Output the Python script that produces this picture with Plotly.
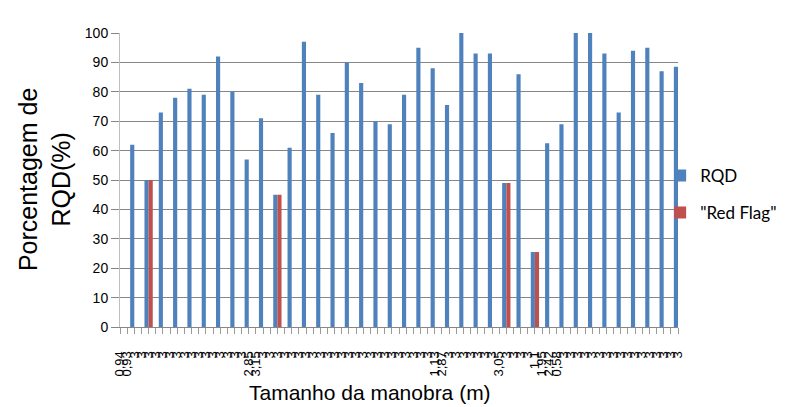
import plotly.graph_objects as go

# Category labels (run length, m) - one per category slot on the axis
categories = [
    "0,94", "0,93", "3", "3", "3", "3", "3", "3", "3", "3",
    "3", "3", "3", "3", "3", "3", "3", "3", "2,85", "3,15",
    "3", "3", "3", "3", "3", "3", "3", "3", "3", "3",
    "3", "3", "3", "3", "3", "3", "3", "3", "3", "3",
    "3", "3", "3", "3", "1,13", "2,87", "3", "3", "3", "3",
    "3", "3", "3", "3,05", "3", "3", "3", "3", "1,1", "1,95",
    "2,42", "0,58", "3", "3", "3", "3", "3", "3", "3", "3",
    "3", "3", "3", "3", "3", "3", "3", "3", "3",
]

# RQD (%) per category slot (None = no bar)
rqd = [
    None, None, 62, None, 50, None, 73, None, 78, None,
    81, None, 79, None, 92, None, 80, None, 57, None,
    71, None, 45, None, 61, None, 97, None, 79, None,
    66, None, 90, None, 83, None, 70, None, 69, None,
    79, None, 95, None, 88, None, 75.5, None, 100, None,
    93, None, 93, None, 49, None, 86, None, 25.5, None,
    62.5, None, 69, None, 100, None, 100, None, 93, None,
    73, None, 94, None, 95, None, 87, None, 88.5,
]

# "Red Flag" series
red_flag = [
    None, None, None, None, 50, None, None, None, None, None,
    None, None, None, None, None, None, None, None, None, None,
    None, None, 45, None, None, None, None, None, None, None,
    None, None, None, None, None, None, None, None, None, None,
    None, None, None, None, None, None, None, None, None, None,
    None, None, None, None, 49, None, None, None, 25.5, None,
    None, None, None, None, None, None, None, None, None, None,
    None, None, None, None, None, None, None, None, None,
]

y_ticks = list(range(0, 101, 10))

positions = list(range(len(categories)))

fig = go.Figure()
fig.add_trace(go.Bar(
    x=positions, y=rqd, name="RQD",
    width=0.58, offset=-0.58,
    marker=dict(color="#4F81BD", line=dict(width=0)),
    legendgroup="a",
))
fig.add_trace(go.Bar(
    x=positions, y=red_flag, name='"Red Flag"',
    width=0.58, offset=0.0,
    marker=dict(color="#C0504D", line=dict(width=0)),
    legendgroup="b",
))

fig.update_layout(
    width=786, height=407,
    paper_bgcolor="white", plot_bgcolor="white",
    barmode="overlay",
    margin=dict(l=120, r=108, t=33, b=80, autoexpand=False),
    font=dict(family="Liberation Sans, Arial, sans-serif", color="#000000"),
    showlegend=True,
    legend=dict(
        x=0.968, y=0.575, xanchor="left", yanchor="top",
        font=dict(family="Lato, Liberation Sans, sans-serif", size=17, color="#000000"),
        traceorder="grouped", tracegroupgap=12,
        bgcolor="rgba(0,0,0,0)",
    ),
    xaxis=dict(
        range=[0, len(categories) - 1],
        tickmode="array", tickvals=positions, ticktext=categories,
        tickangle=-90,
        ticks="outside", ticklen=6, tickcolor="#9a9a9a", tickwidth=1,
        ticklabelstandoff=12,
        showline=True, linecolor="#868686", linewidth=1,
        showgrid=False, zeroline=False,
        tickfont=dict(size=13, color="#000000"),
    ),
    yaxis=dict(
        range=[0, 100],
        tickmode="array", tickvals=y_ticks,
        ticks="outside", ticklen=8, tickcolor="#868686",
        ticklabelstandoff=0,
        showgrid=True, gridcolor="#868686", gridwidth=1,
        showline=True, linecolor="#bfbfbf", linewidth=1,
        zeroline=False,
        tickfont=dict(size=14, color="#000000"),
    ),
    annotations=[
        dict(
            text="Porcentagem de<br>RQD(%)",
            xref="paper", yref="paper",
            x=-0.136, y=0.5, xanchor="center", yanchor="middle",
            textangle=-90, showarrow=False,
            font=dict(size=25, color="#000000"),
        ),
        dict(
            text="Tamanho da manobra (m)",
            xref="paper", yref="paper",
            x=0.448, y=-0.224, xanchor="center", yanchor="middle",
            showarrow=False,
            font=dict(size=21, color="#000000"),
        ),
    ],
)

fig.write_html("out.html")
